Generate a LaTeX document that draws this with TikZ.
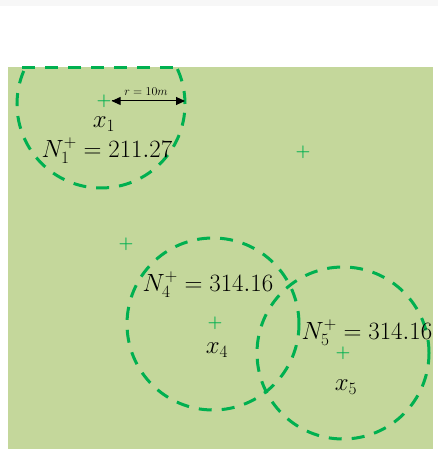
\documentclass[tikz,border=0pt]{standalone}
\usepackage{amsmath,amssymb}
\usepackage{tikz}
\usetikzlibrary{positioning, arrows.meta, calc}
\usepackage{xcolor}
\definecolor{fieldgreen}{HTML}{C4D79B}
\definecolor{ringgreen}{HTML}{00B050}
\definecolor{stripgray}{HTML}{F7F7F7}

\tikzset{
  ring/.style={draw=ringgreen, line width=3pt, dash pattern=on 13pt off 10pt},
  cross/.style={text=ringgreen, inner sep=0pt, font=\fontsize{17}{17}\selectfont\bfseries},
  lbl/.style={inner sep=0pt, font=\fontsize{25}{30}\selectfont},
  sublbl/.style={inner sep=0pt, font=\fontsize{23}{27}\selectfont}
}

\begin{document}
\begin{tikzpicture}[x=1pt, y=1pt]
  \useasboundingbox (0,0) rectangle (438,449);
  \fill[stripgray] (0,443) rectangle (438,449);
  \fill[fieldgreen] (8,0) rectangle (433,382);

  % centres of the sensing ranges
  \coordinate (c1) at (101,345);
  \coordinate (c4) at (213,125);
  \coordinate (c5) at (343,96);

  % clipped range at the top edge
  \begin{scope}
    \clip (8,0) rectangle (433,381);
    \draw[ring] (c1) circle (84pt);
  \end{scope}
  \coordinate (t1) at (22,381);
  \coordinate (t2) at (183,381);
  \draw[ring] (t1) -- (t2);
  \draw[ring] (c4) circle (86pt);
  \draw[ring] (c5) circle (86pt);

  % points
  \node[cross] (p1) at (104,348) {+};
  \node[cross] (p2) at (303,297) {+};
  \node[cross] (p3) at (126,205) {+};
  \node[cross] (p4) at (215,126) {+};
  \node[cross] (p5) at (343,96) {+};

  % radius
  \coordinate (r1) at (185,348);
  \draw[-{Triangle[length=9pt,width=8pt]}, line width=1pt] (p1.east) -- (r1);
  \draw[{Triangle[length=9pt,width=8pt]}-, line width=1pt] (p1.east) -- ($(p1.east)!0.5!(r1)$);
  \node[inner sep=0pt, font=\fontsize{13}{14}\selectfont] (rad) at (146,357) {$r=10m$};

  % labels
  \node[sublbl] (x1) at (104,325) {$x_1$};
  \node[lbl] (n1) at (107,298) {$N_1^+=211.27$};
  \node[lbl] (n4) at (208,164) {$N_4^+=314.16$};
  \node[sublbl] (x4) at (217,99) {$x_4$};
  \node[lbl] (n5) at (367,116) {$N_5^+=314.16$};
  \node[sublbl] (x5) at (346,62) {$x_5$};
\end{tikzpicture}
\end{document}
